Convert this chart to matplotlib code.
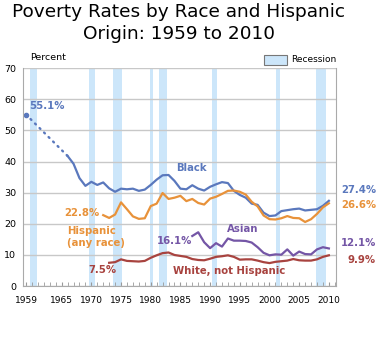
import matplotlib
matplotlib.use("Agg")
import matplotlib.pyplot as plt
from matplotlib.patches import Rectangle
from matplotlib.ticker import MultipleLocator

# Poverty rates (percent) by group
black_early_years = [1959, 1966]
black_early = [55.1, 41.8]

black_years = list(range(1966, 2011))
black = [41.8, 39.3, 34.7, 32.2, 33.5, 32.5, 33.3, 31.4, 30.3, 31.3,
         31.1, 31.3, 30.6, 31.0, 32.5, 34.2, 35.6, 35.7, 33.8, 31.3,
         31.1, 32.4, 31.3, 30.7, 31.9, 32.7, 33.4, 33.1, 30.6, 29.3,
         28.4, 26.5, 26.1, 23.6, 22.5, 22.7, 24.1, 24.4, 24.7, 24.9,
         24.3, 24.5, 24.7, 25.8, 27.4]

hispanic_years = list(range(1972, 2011))
hispanic = [22.8, 21.9, 23.0, 26.9, 24.7, 22.4, 21.6, 21.8, 25.7, 26.5,
            29.9, 28.0, 28.4, 29.0, 27.3, 28.0, 26.7, 26.2, 28.1, 28.7,
            29.6, 30.6, 30.7, 30.3, 29.4, 27.1, 25.6, 22.7, 21.5, 21.4,
            21.8, 22.5, 21.9, 21.8, 20.6, 21.5, 23.2, 25.3, 26.6]

asian_years = list(range(1987, 2011))
asian = [16.1, 17.3, 14.1, 12.2, 13.8, 12.7, 15.3, 14.6, 14.6, 14.5,
         14.0, 12.5, 10.7, 9.9, 10.2, 10.1, 11.8, 9.8, 11.1, 10.3,
         10.2, 11.8, 12.5, 12.1]

white_years = list(range(1973, 2011))
white = [7.5, 7.7, 8.6, 8.1, 8.0, 7.9, 8.1, 9.1, 9.9, 10.6,
         10.8, 10.0, 9.7, 9.4, 8.7, 8.4, 8.3, 8.8, 9.4, 9.6,
         9.9, 9.4, 8.5, 8.6, 8.6, 8.2, 7.7, 7.4, 7.8, 8.0,
         8.2, 8.7, 8.3, 8.2, 8.2, 8.6, 9.4, 9.9]

recessions = [(1959.7, 1960.8), (1969.6, 1970.6), (1973.6, 1975.1),
              (1979.9, 1980.4), (1981.4, 1982.7), (1990.4, 1991.1),
              (2001.1, 2001.8), (2007.9, 2009.5)]

x_ticks = [1959, 1965, 1970, 1975, 1980, 1985, 1990, 1995, 2000, 2005, 2010]

BLUE = "#5a78bd"
ORANGE = "#e8923a"
PURPLE = "#7456a6"
RED = "#a8433f"
BAND = "#cce6fa"

fig = plt.figure(figsize=(3.84, 3.55), dpi=100)
ax = fig.add_axes([0.06, 0.194, 0.815, 0.614])

for start, end in recessions:
    ax.axvspan(start, end, color=BAND, lw=0, zorder=0)

ax.set_xlim(1958.5, 2011.2)
ax.set_ylim(0, 70)
ax.yaxis.grid(True, color="#c8c8c8", lw=1)
ax.set_axisbelow(True)

# lines
ax.plot(black_early_years, black_early, color=BLUE, lw=1.7, ls=(0, (0.5, 2.2)),
        dash_capstyle="round")
ax.plot(black_early_years[0], black_early[0], "o", color=BLUE, ms=3)
ax.plot(black_years, black, color=BLUE, lw=1.6)
ax.plot(hispanic_years, hispanic, color=ORANGE, lw=1.6)
ax.plot(asian_years, asian, color=PURPLE, lw=1.6)
ax.plot(white_years, white, color=RED, lw=1.6)

# axis styling
ax.set_xticks(x_ticks)
ax.xaxis.set_minor_locator(MultipleLocator(1))
ax.tick_params(axis="x", which="both", direction="in", length=3,
               color="#999999", labelsize=6.5, pad=7)
ax.tick_params(axis="y", length=0, labelsize=6.8, pad=5)
ax.set_yticks(range(0, 71, 10))
for side in ["left", "bottom", "right"]:
    ax.spines[side].set_color("#aaaaaa")
ax.spines["top"].set_visible(False)

# labels
bold = dict(fontsize=7.3, fontweight="bold", va="center")
ax.text(1959.5, 57.7, "55.1%", color=BLUE, **bold)
ax.text(1984.3, 38.0, "Black", color=BLUE, **bold)
ax.text(1971.3, 23.5, "22.8%", color=ORANGE, ha="right", **bold)
ax.text(1965.9, 15.8, "Hispanic\n(any race)", color=ORANGE,
        linespacing=1.15, **bold)
ax.text(1986.9, 14.5, "16.1%", color=PURPLE, ha="right", **bold)
ax.text(1992.8, 18.4, "Asian", color=PURPLE, **bold)
ax.text(1974.2, 5.2, "7.5%", color=RED, ha="right", **bold)
ax.text(1983.7, 4.8, "White, not Hispanic", color=RED, **bold)
ax.text(2012.0, 31.0, "27.4%", color=BLUE, **bold)
ax.text(2012.0, 26.1, "26.6%", color=ORANGE, **bold)
ax.text(2012.0, 13.9, "12.1%", color=PURPLE, **bold)
ax.text(2013.2, 8.4, "9.9%", color=RED, **bold)

fig.text(0.465, 0.967, "Poverty Rates by Race and Hispanic", ha="center",
         va="center", fontsize=13.3)
fig.text(0.465, 0.905, "Origin: 1959 to 2010", ha="center",
         va="center", fontsize=13.3)
fig.text(0.078, 0.837, "Percent", fontsize=6.8, va="center")

fig.patches.append(Rectangle((0.688, 0.818), 0.06, 0.028,
                             transform=fig.transFigure, facecolor=BAND,
                             edgecolor="#777777", lw=0.8))
fig.text(0.758, 0.832, "Recession", fontsize=6.5, va="center")

fig.savefig("out.png", dpi=100)
